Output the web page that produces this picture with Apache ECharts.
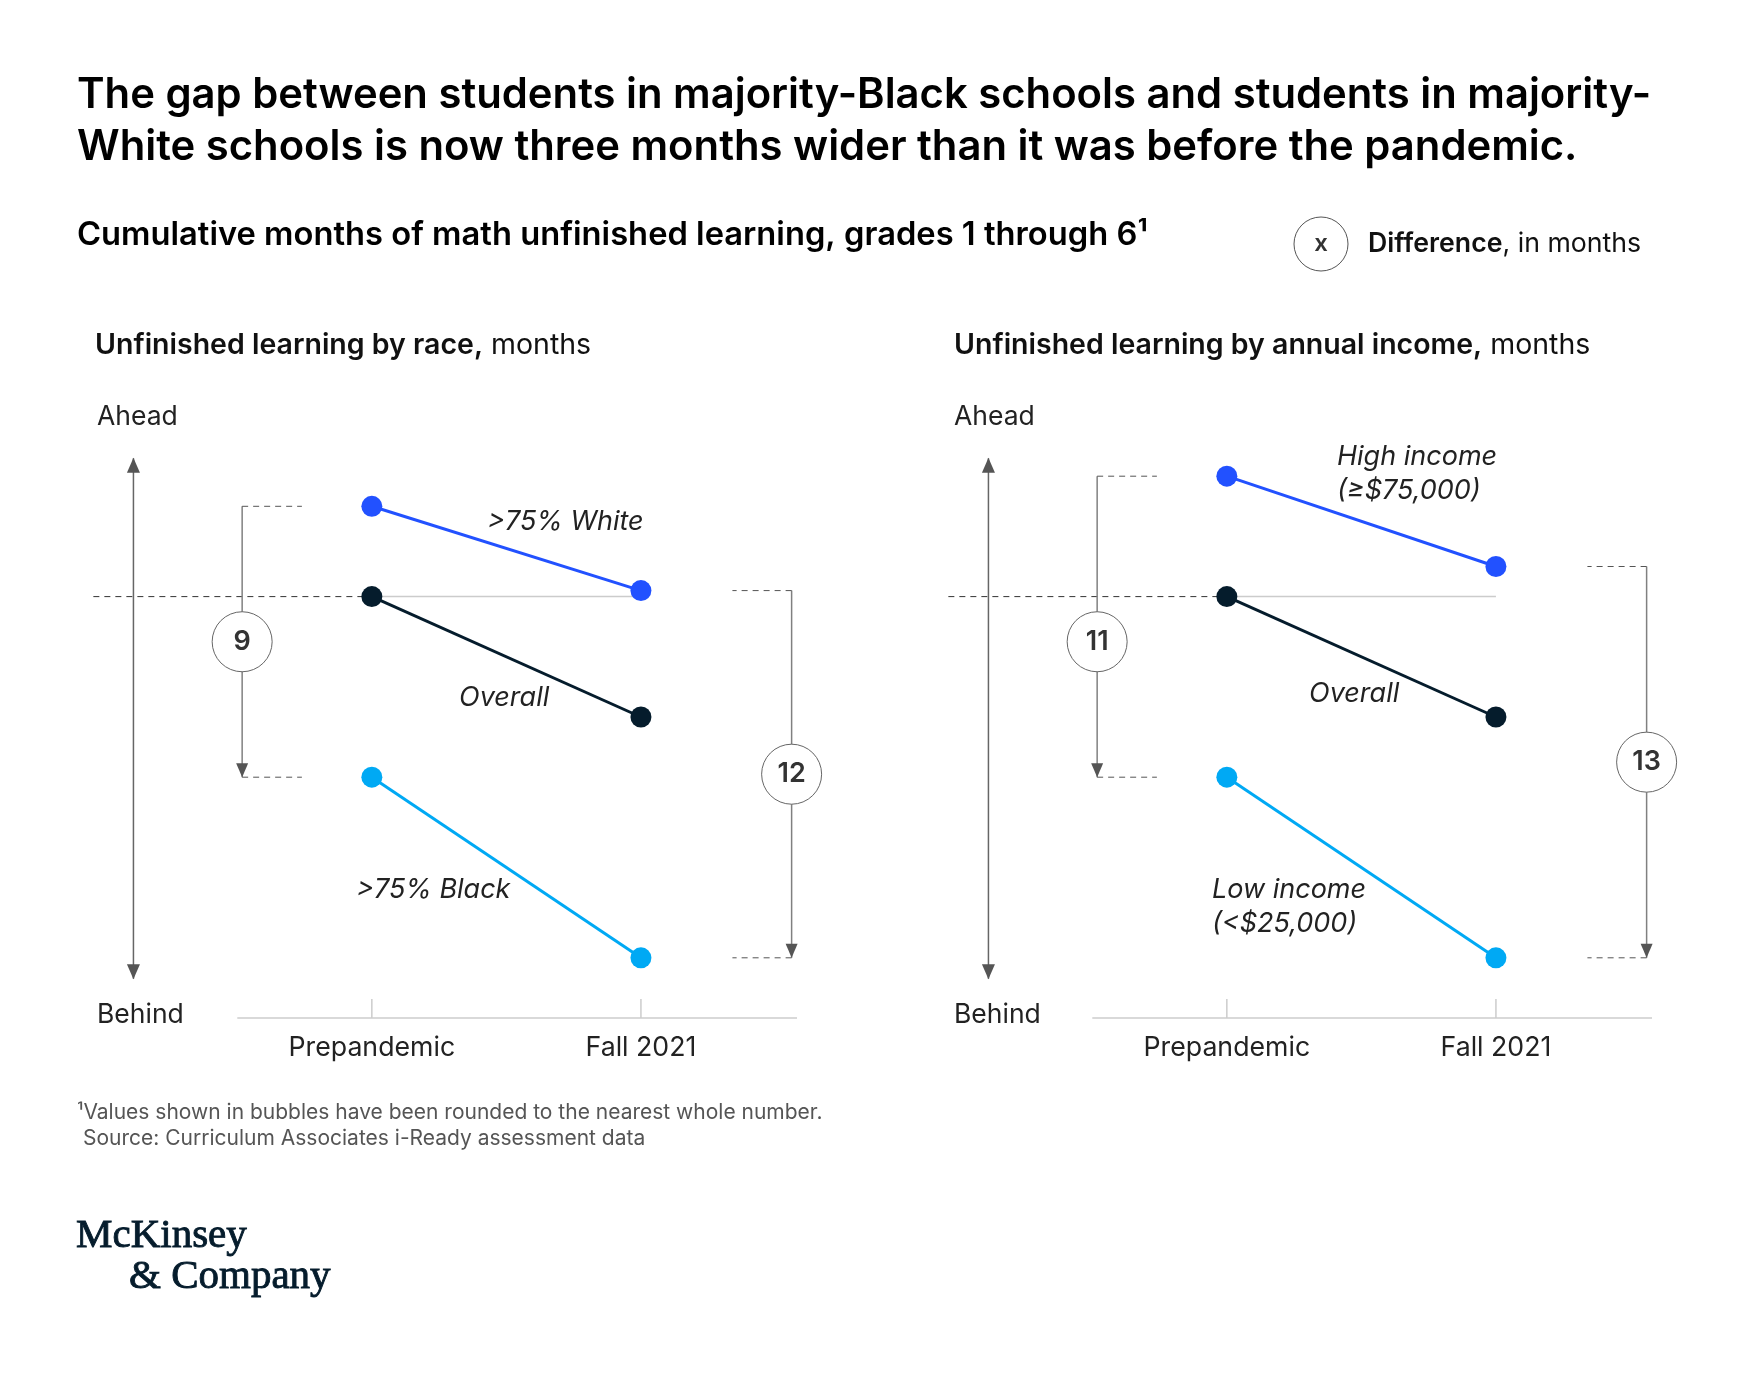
<!DOCTYPE html>
<html>
<head>
<meta charset="utf-8">
<script src="https://cdn.jsdelivr.net/npm/echarts@6/dist/echarts.min.js"></script>
<style>
html,body{margin:0;padding:0;background:#fff;}
#chart{width:1753px;height:1377px;}
</style>
</head>
<body>
<div id="chart"></div>
<script>
// ---------- data (months relative to prepandemic overall) ----------
const categories = ['Prepandemic', 'Fall 2021'];
const raceNames = ['>75% White', 'Overall', '>75% Black'];
const raceWhite = [3.0, 0.2];
const raceOverall = [0, -4.0];
const raceBlack = [-6.0, -12.0];
const raceGaps = [9, 12];
const incomeNames = ['High income\n(≥$75,000)', 'Overall', 'Low income\n(<$25,000)'];
const incomeHigh = [4.0, 1.0];
const incomeOverall = [0, -4.0];
const incomeLow = [-6.0, -12.0];
const incomeGaps = [11, 13];

// ---------- layout ----------
const L = {
  yMin: -14, yMax: 6, xMin: -1.04, xMax: 1.58, axisStart: -0.5,
  gridTop: 416, gridHeight: 602, gridWidth: 705, gridLefts: [92, 947],
  refStart: -1.035, bigArrowX: -0.886, bigArrowTop: 4.6, bigArrowBottom: -12.7,
  preBracketX: -0.482, preDashEnd: -0.26, fallBracketX: 1.56, fallDashStart: 1.34,
  preBubbleY: -1.5, tickLen: 0.63
};
const COLORS = ['#2251ff', '#051c2c', '#00a9f4'];
const FONT = 'Inter, "Noto Sans", sans-serif';
const UP = 'path://M0,10 L5,0 L10,10 Z';
const DOWN = 'path://M0,0 L10,0 L5,10 Z';

function panelSeries(idx, top, overall, bottom, gaps) {
  const ax = {xAxisIndex: idx, yAxisIndex: idx, clip: false, silent: true, animation: false};
  const s = [];
  // visible x axis baseline and category ticks
  s.push(Object.assign({type: 'line', symbol: 'none', z: 1,
    data: [[L.axisStart, L.yMin], [L.xMax, L.yMin]],
    lineStyle: {color: '#cccccc', width: 1.5}}, ax));
  categories.forEach((c, j) => {
    s.push(Object.assign({type: 'line', symbol: 'none', z: 1,
      data: [[j, L.yMin], [j, L.yMin + L.tickLen]],
      lineStyle: {color: '#cccccc', width: 1.5}}, ax));
  });
  // overall reference: dashed to the prepandemic dot, solid across
  s.push(Object.assign({type: 'line', symbol: 'none', z: 1,
    data: [[L.refStart, overall[0]], [0, overall[0]]],
    lineStyle: {color: '#333', width: 1, type: [6, 5]}}, ax));
  s.push(Object.assign({type: 'line', symbol: 'none', z: 1,
    data: [[0, overall[0]], [1, overall[0]]],
    lineStyle: {color: '#cccccc', width: 1.5}}, ax));
  // ahead / behind arrow
  s.push(Object.assign({type: 'line', z: 2, showSymbol: true,
    data: [
      {value: [L.bigArrowX, L.bigArrowTop], symbol: UP, symbolSize: [13, 15], symbolOffset: [0, 7]},
      {value: [L.bigArrowX, L.bigArrowBottom], symbol: DOWN, symbolSize: [13, 15], symbolOffset: [0, -7]}
    ],
    itemStyle: {color: '#555'},
    lineStyle: {color: '#666', width: 1.5}}, ax));
  // brackets
  const brackets = [
    {x: L.preBracketX, d: L.preDashEnd, t: top[0], b: bottom[0]},
    {x: L.fallBracketX, d: L.fallDashStart, t: top[1], b: bottom[1]}
  ];
  brackets.forEach(br => {
    s.push(Object.assign({type: 'line', z: 2, showSymbol: true,
      data: [
        {value: [br.x, br.t], symbol: 'none'},
        {value: [br.x, br.b], symbol: DOWN, symbolSize: [12, 14], symbolOffset: [0, -7]}
      ],
      itemStyle: {color: '#555'},
      lineStyle: {color: '#808080', width: 1.5}}, ax));
    [br.t, br.b].forEach(v => {
      s.push(Object.assign({type: 'line', symbol: 'none', z: 2,
        data: [[br.x, v], [br.d, v]],
        lineStyle: {color: '#555', width: 1, type: [6, 5]}}, ax));
    });
  });
  // bubbles
  s.push(Object.assign({type: 'scatter', z: 5, symbol: 'circle', symbolSize: 60,
    data: [
      [L.preBracketX, L.preBubbleY, gaps[0]],
      [L.fallBracketX, (top[1] + bottom[1]) / 2, gaps[1]]
    ],
    itemStyle: {color: '#fff', borderColor: '#666', borderWidth: 1, opacity: 1},
    label: {show: true, position: 'inside', formatter: p => String(p.value[2]),
      fontFamily: FONT, fontSize: 27, fontWeight: 600, color: '#333'}}, ax));
  // data lines
  [top, overall, bottom].forEach((vals, i) => {
    s.push(Object.assign({type: 'line', z: 10, symbol: 'circle', symbolSize: 21, showSymbol: true,
      data: vals.map((v, j) => [j, v]),
      itemStyle: {color: COLORS[i]},
      lineStyle: {color: COLORS[i], width: 3}}, ax));
  });
  return s;
}

function txt(x, y, text, font, fill, extra) {
  const el = {type: 'text', x: x, y: y, silent: true,
    style: {text: text, font: font, fill: fill || '#111', verticalAlign: 'middle'}};
  if (extra) Object.assign(el.style, extra);
  return el;
}
function richTxt(x, y, text, rich) {
  return {type: 'text', x: x, y: y, silent: true,
    style: {text: text, rich: rich, verticalAlign: 'middle', fill: '#111'}};
}

const chart = echarts.init(document.getElementById('chart'), null, {renderer: 'canvas'});
const xAxes = [0, 1].map(i => ({
  type: 'value', gridIndex: i, min: L.xMin, max: L.xMax,
  splitLine: {show: false},
  axisLine: {show: false, onZero: false},
  axisTick: {show: false},
  axisLabel: {show: true, customValues: [0, 1], formatter: v => categories[Math.round(v)] || '',
    margin: 16, fontFamily: FONT, fontSize: 26.7, color: '#222'}
}));
const yAxes = [0, 1].map(i => ({
  type: 'value', gridIndex: i, min: L.yMin, max: L.yMax, show: false
}));

const titleFont = '600 41.8px ' + FONT;
const italic = 'italic 400 27px ' + FONT;
const logoFont = '400 41px "Liberation Serif", serif';
const logoExtra = {stroke: '#051c2c', lineWidth: 0.9};
const graphic = [
  txt(77, 95, 'The gap between students in majority-Black schools and students in majority-', titleFont, '#000'),
  txt(77, 147, 'White schools is now three months wider than it was before the pandemic.', titleFont, '#000'),
  txt(77, 235, 'Cumulative months of math unfinished learning, grades 1 through 6¹', '600 32.7px ' + FONT, '#000'),
  {type: 'circle', shape: {cx: 1321, cy: 244, r: 27}, silent: true,
    style: {fill: '#fff', stroke: '#555', lineWidth: 1}},
  {type: 'text', x: 1321, y: 244, silent: true,
    style: {text: 'x', font: '600 24px ' + FONT, fill: '#333', align: 'center', verticalAlign: 'middle'}},
  richTxt(1368, 244, '{b|Difference}{r|, in months}', {
    b: {font: '600 26.7px ' + FONT, fill: '#111'}, r: {font: '400 26.7px ' + FONT, fill: '#111'}}),
  richTxt(95, 345, '{b|Unfinished learning by race,}{r| months}', {
    b: {font: '600 28.5px ' + FONT, fill: '#111'}, r: {font: '400 28.5px ' + FONT, fill: '#111'}}),
  richTxt(954, 345, '{b|Unfinished learning by annual income,}{r| months}', {
    b: {font: '600 28.5px ' + FONT, fill: '#111'}, r: {font: '400 28.5px ' + FONT, fill: '#111'}}),
  txt(97, 417, 'Ahead', '400 26.5px ' + FONT, '#222'),
  txt(97, 1015, 'Behind', '400 26.5px ' + FONT, '#222'),
  txt(954, 417, 'Ahead', '400 26.5px ' + FONT, '#222'),
  txt(954, 1015, 'Behind', '400 26.5px ' + FONT, '#222'),
  // series labels
  txt(487, 522, raceNames[0], italic, '#222'),
  txt(459, 698, raceNames[1], italic, '#222'),
  txt(356, 890, raceNames[2], italic, '#222'),
  txt(1337, 474, incomeNames[0], italic, '#222', {lineHeight: 34}),
  txt(1309, 694, incomeNames[1], italic, '#222'),
  txt(1212, 907, incomeNames[2], italic, '#222', {lineHeight: 34}),
  // footnotes
  txt(77, 1113, '¹Values shown in bubbles have been rounded to the nearest whole number.', '400 21px ' + FONT, '#555'),
  txt(83, 1139, 'Source: Curriculum Associates i-Ready assessment data', '400 21px ' + FONT, '#555'),
  // logo
  txt(76, 1236, 'McKinsey', logoFont, '#051c2c', logoExtra),
  txt(129, 1277, '& Company', logoFont, '#051c2c', logoExtra)
];

chart.setOption({
  animation: false,
  backgroundColor: '#fff',
  grid: L.gridLefts.map(l => ({left: l, top: L.gridTop, width: L.gridWidth, height: L.gridHeight})),
  xAxis: xAxes,
  yAxis: yAxes,
  series: panelSeries(0, raceWhite, raceOverall, raceBlack, raceGaps)
    .concat(panelSeries(1, incomeHigh, incomeOverall, incomeLow, incomeGaps)),
  graphic: graphic
});
</script>
</body>
</html>
